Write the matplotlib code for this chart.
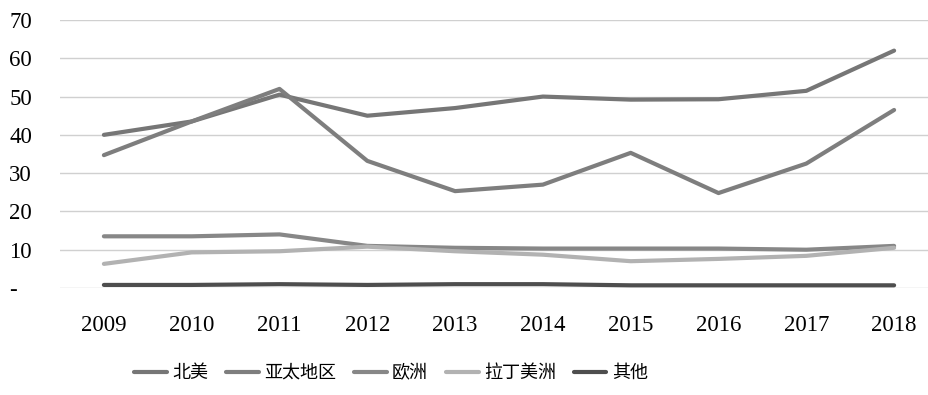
import matplotlib
matplotlib.use("Agg")
import matplotlib.pyplot as plt

years = ["2009", "2010", "2011", "2012", "2013", "2014", "2015", "2016", "2017", "2018"]
north_america = [40, 43.5, 50.5, 45, 47, 50, 49.2, 49.3, 51.5, 62]
asia_pacific = [34.7, 43.5, 52, 33.2, 25.3, 27, 35.3, 24.8, 32.5, 46.5]
europe = [13.5, 13.5, 14, 11, 10.5, 10.3, 10.3, 10.3, 10, 11]
latin_america = [6.3, 9.3, 9.6, 10.8, 9.6, 8.7, 7, 7.6, 8.4, 10.5]
others = [0.8, 0.8, 1, 0.8, 1, 1, 0.7, 0.7, 0.7, 0.7]

series_names = ["北美", "亚太地区", "欧洲", "拉丁美洲", "其他"]
series = [north_america, asia_pacific, europe, latin_america, others]
colors = ["#767676", "#7e7e7e", "#878787", "#b2b2b2", "#4e4e4e"]

yticks = [0, 10, 20, 30, 40, 50, 60, 70]
ytick_labels = ["-", "10", "20", "30", "40", "50", "60", "70"]

W, H = 929, 395
fig = plt.figure(figsize=(W / 100, H / 100), dpi=100)
ax = fig.add_axes([60 / W, (H - 288) / H, 878 / W, 268 / H])

x = list(range(len(years)))
for name, vals, c in zip(series_names, series, colors):
    ax.plot(x, vals, color=c, lw=3.0, label=name, solid_capstyle="round", solid_joinstyle="round")

ax.set_xlim(-0.5, len(years) - 0.5)
ax.set_ylim(0, 70)
ax.set_yticks(yticks)
ax.set_yticklabels(ytick_labels)
ax.set_xticks(x)
ax.set_xticklabels(years)
ax.grid(axis="y", color="#d0d0d0", lw=1)
ax.set_axisbelow(True)
for s in ax.spines.values():
    s.set_visible(False)
ax.tick_params(axis="both", length=0)
ax.tick_params(axis="y", pad=36.5)
ax.tick_params(axis="x", pad=19.5)
for t in ax.xaxis.get_major_ticks():
    t.label1.set_fontfamily("Liberation Serif")
    t.label1.set_fontsize(16.5)
for t in ax.yaxis.get_major_ticks():
    t.label1.set_fontfamily("Liberation Serif")
    t.label1.set_fontsize(16.5)
    t.label1.set_horizontalalignment("left")

leg = fig.legend(loc="center", bbox_to_anchor=(391 / W, (H - 373) / H), ncol=5, frameon=False,
                 prop={"family": ["Noto Sans CJK SC", "DejaVu Sans"], "size": 13},
                 handlelength=1.8, columnspacing=1.0, handletextpad=0.3)

fig.savefig("out.png", dpi=100)
